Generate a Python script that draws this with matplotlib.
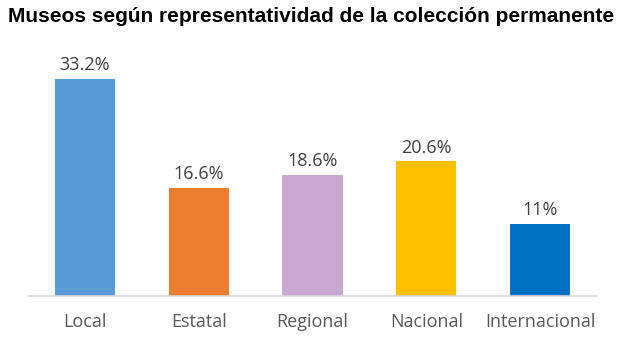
import matplotlib
matplotlib.use('Agg')
import matplotlib.pyplot as plt

categorias = ["Local", "Estatal", "Regional", "Nacional", "Internacional"]
valores = [33.2, 16.6, 18.6, 20.6, 11]
etiquetas = ["33.2%", "16.6%", "18.6%", "20.6%", "11%"]
colores = ["#5B9BD5", "#ED7D31", "#C9A9D4", "#FFC000", "#0070C0"]

fig = plt.figure(figsize=(6.25, 3.56), dpi=100)
ax = fig.add_axes([28 / 625, 60 / 356, 569 / 625, 226 / 356])

x = range(len(categorias))
ax.bar(x, valores, width=0.53, color=colores)
for i, (v, t) in enumerate(zip(valores, etiquetas)):
    ax.text(i, v + 0.75, t, ha="center", va="bottom", fontsize=13,
            color="#404040", family="Open Sans")

ax.set_xlim(-0.5, 4.5)
ax.set_ylim(0, 34.6)
ax.set_xticks(list(x))
ax.set_xticklabels(categorias, fontsize=13, color="#595959", family="Open Sans")
ax.tick_params(axis="x", length=0, pad=12)
ax.set_yticks([])
for s in ["top", "right", "left"]:
    ax.spines[s].set_visible(False)
ax.spines["bottom"].set_color("#D9D9D9")
ax.spines["bottom"].set_linewidth(1.2)

fig.text(8 / 625, 1 - 16 / 356, "Museos según representatividad de la colección permanente",
         fontsize=15, fontweight="bold", family="Liberation Sans", va="center", ha="left")

fig.savefig("out.png", dpi=100)
